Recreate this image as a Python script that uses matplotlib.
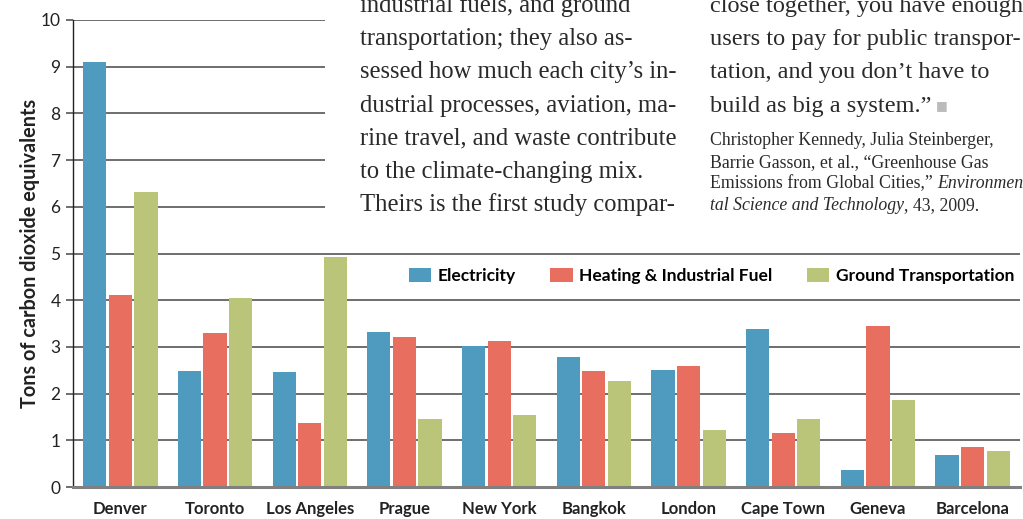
import matplotlib
matplotlib.use("Agg")
import matplotlib.pyplot as plt
import numpy as np
from matplotlib.patches import Rectangle, Patch
from matplotlib.text import Annotation

cities = ["Denver", "Toronto", "Los Angeles", "Prague", "New York",
          "Bangkok", "London", "Cape Town", "Geneva", "Barcelona"]
electricity = [9.10, 2.48, 2.46, 3.32, 3.02, 2.78, 2.50, 3.38, 0.36, 0.69]
heating = [4.11, 3.30, 1.37, 3.21, 3.13, 2.48, 2.59, 1.16, 3.45, 0.86]
ground = [6.32, 4.05, 4.93, 1.46, 1.54, 2.27, 1.22, 1.46, 1.86, 0.77]
series_names = ["Electricity", "Heating & Industrial Fuel", "Ground Transportation"]
colors = ["#4f9abf", "#e86e60", "#bac57a"]

mid_lines = ["industrial fuels, and ground",
             "transportation; they also as-",
             "sessed how much each city\u2019s in-",
             "dustrial processes, aviation, ma-",
             "rine travel, and waste contribute",
             "to the climate-changing mix.",
             "Theirs is the first study compar-"]
right_lines = ["close together, you have enough",
               "users to pay for public transpor-",
               "tation, and you don\u2019t have to",
               "build as big a system.\u201d"]
cite = [[("Christopher Kennedy, Julia Steinberger,", "normal")],
        [("Barrie Gasson, et al., \u201cGreenhouse Gas", "normal")],
        [("Emissions from Global Cities,\u201d ", "normal"), ("Environmen", "italic")],
        [("tal Science and Technology", "italic"), (", 43, 2009.", "normal")]]

W, H = 1023, 519
fig = plt.figure(figsize=(W / 100, H / 100), dpi=100)
ax = fig.add_axes([73 / W, 1 - 487 / H, (1020 - 73) / W, (487 - 20) / H])

x = np.arange(len(cities))
w = 0.245
off = 0.27
for i, (vals, c) in enumerate(zip([electricity, heating, ground], colors)):
    ax.bar(x + (i - 1) * off, vals, width=w, color=c, zorder=2)

ax.set_xlim(-0.5, len(cities) - 0.5)
ax.set_ylim(0, 10)
ax.set_yticks(range(0, 11))
ax.yaxis.grid(True, color="#555555", linewidth=1.2, zorder=1)
ax.set_axisbelow(True)
ax.tick_params(axis="y", length=5, width=1.2, color="#555555", labelsize=12.5,
               labelcolor="#222222", pad=4)
for lab in ax.get_yticklabels():
    lab.set_family("Lato")
ax.set_xticks(x)
ax.set_xticklabels(cities, fontsize=12, fontweight="bold", family="Lato",
                   color="#222222")
ax.tick_params(axis="x", length=0, pad=10)
for s in ["top", "right"]:
    ax.spines[s].set_visible(False)
ax.spines["left"].set_color("#222222")
ax.spines["left"].set_linewidth(1.0)
ax.spines["bottom"].set_color("#808080")
ax.spines["bottom"].set_linewidth(2.2)
ax.spines["bottom"].set_zorder(3)
ax.set_ylabel("Tons of carbon dioxide equivalents", fontsize=14.3,
              fontweight="bold", family="Lato", color="#222222")
ax.yaxis.set_label_coords(-0.035, 0.5)

handles = [Patch(facecolor=c, edgecolor="none") for c in colors]
fig.legend(handles, series_names, loc="center left",
           bbox_to_anchor=(409 / W, 1 - 276 / H), bbox_transform=fig.transFigure,
           ncol=3, frameon=False, handlelength=1.27, handleheight=0.92,
           handletextpad=0.38, columnspacing=2.0, borderpad=0, borderaxespad=0,
           prop={"family": "Lato", "weight": "bold", "size": 12.5})

# white panel behind the magazine text
fig.add_artist(Rectangle((325 / W, 1 - 245 / H), 1 - 325 / W, 245 / H,
                         transform=fig.transFigure, facecolor="white",
                         edgecolor="none", zorder=1))

serif = "Liberation Serif"
ink = "#2a2a2a"
for k, line in enumerate(mid_lines):
    fig.text(360 / W, 1 - (12 + 33.2 * k) / H, line, fontsize=17.7, family=serif,
             color=ink, va="baseline", zorder=5)
last = None
for k, line in enumerate(right_lines):
    last = fig.text(710 / W, 1 - (12 + 33.2 * k) / H, line, fontsize=17.5,
                    family=serif, color=ink, va="baseline", zorder=5)
fig.add_artist(Annotation("\u25a0", xy=(1, 0), xycoords=last, xytext=(3, 3),
                          textcoords="offset points", va="bottom", ha="left",
                          fontsize=9, family="DejaVu Sans", color="#bbbbbb",
                          zorder=5))

for k, parts in enumerate(cite):
    yb = 1 - (145 + 21.7 * k) / H
    prev = None
    for txt, st in parts:
        if prev is None:
            prev = fig.text(710 / W, yb, txt, fontsize=12.8, family=serif,
                            style=st, color=ink, va="baseline", zorder=5)
        else:
            prev = fig.add_artist(Annotation(txt, xy=(1, 0), xycoords=prev,
                                             va="bottom", ha="left", fontsize=12.8,
                                             family=serif, style=st, color=ink,
                                             zorder=5))

fig.savefig("out.png", dpi=100)
